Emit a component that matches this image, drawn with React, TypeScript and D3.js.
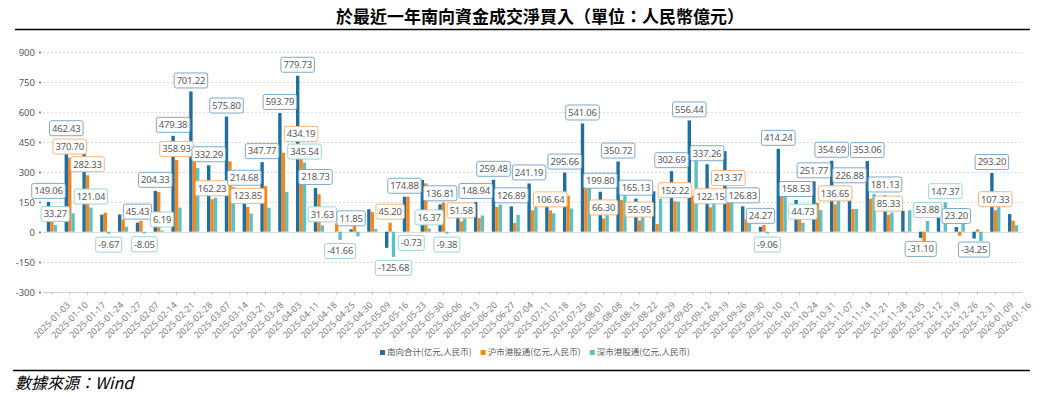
import { useEffect, useRef } from 'react';
import * as d3 from 'd3';

const dates = [
  '2025-01-03', '2025-01-10', '2025-01-17', '2025-01-24', '2025-01-27', '2025-02-07', '2025-02-14',
  '2025-02-21', '2025-02-28', '2025-03-07', '2025-03-14', '2025-03-21', '2025-03-28', '2025-04-03',
  '2025-04-11', '2025-04-18', '2025-04-25', '2025-04-30', '2025-05-09', '2025-05-16', '2025-05-23',
  '2025-05-30', '2025-06-06', '2025-06-13', '2025-06-20', '2025-06-27', '2025-07-04', '2025-07-11',
  '2025-07-18', '2025-07-25', '2025-08-01', '2025-08-08', '2025-08-15', '2025-08-22', '2025-08-29',
  '2025-09-05', '2025-09-12', '2025-09-19', '2025-09-26', '2025-09-30', '2025-10-10', '2025-10-17',
  '2025-10-24', '2025-10-31', '2025-11-07', '2025-11-14', '2025-11-21', '2025-11-28', '2025-12-05',
  '2025-12-12', '2025-12-19', '2025-12-26', '2025-12-31', '2026-01-09', '2026-01-16',
];

// 南向合计
const southTotal = [
  149.06, 462.43, 403.37, 85.33, 86.5, 45.43, 204.33, 479.38, 701.22, 332.29, 575.8, 214.68, 347.77, 593.79,
  779.73, 218.73, 0.34, 11.85, 112.0, -80.48, 174.88, 258.4, 136.81, 119.6, 148.94, 259.48, 126.89, 241.19,
  198.6, 295.66, 541.06, 199.8, 350.72, 165.13, 202.0, 302.69, 556.44, 337.26, 403.0, 126.83, 24.27, 414.24,
  158.53, 251.77, 354.69, 226.88, 353.06, 181.13, 104.0, -31.1, 70.0, 23.2, -34.25, 293.2, 88.0,
];

// 沪市港股通
const shConnect = [
  115.79, 370.7, 282.33, 95.0, 61.5, 53.48, 198.14, 358.93, 352.0, 162.23, 352.0, 123.85, 228.0, 395.0,
  434.19, 187.1, 42.0, 35.0, 98.0, 45.2, 175.61, 242.0, 146.19, 51.58, 68.0, 124.0, 43.0, 107.0,
  106.64, 180.0, 218.0, 66.3, 160.0, 55.95, 38.0, 152.22, 180.0, 122.15, 213.37, 62.0, 33.33, 178.0,
  113.8, 144.0, 136.65, 113.0, 165.0, 85.33, -3.0, -47.0, -2.0, -20.0, 12.0, 107.33, 55.0,
];

// 深市港股通
const szConnect = [
  33.27, 91.73, 121.04, -9.67, 25.0, -8.05, 6.19, 120.45, 318.0, 170.06, 223.8, 90.83, 119.77, 198.79,
  345.54, 31.63, -41.66, -23.15, 14.0, -125.68, -0.73, 16.37, -9.38, 68.0, 80.94, 135.48, 83.89, 134.19,
  92.0, 115.66, 222.0, 133.5, 190.72, 109.18, 164.0, 150.47, 376.44, 215.11, 190.0, 64.83, -9.06, 236.24,
  44.73, 107.77, 218.04, 113.88, 188.06, 95.8, 107.0, 53.88, 147.37, 43.2, -46.25, 185.87, 33.0,
];

const seriesNames = ['南向合计(亿元,人民币)', '沪市港股通(亿元,人民币)', '深市港股通(亿元,人民币)'];
const yTicks = [-300, -150, 0, 150, 300, 450, 600, 750, 900];

// bars that show a value label: [category index, series index]
const labelled: [number, number][] = [
  [0, 0], [0, 2], [1, 0], [1, 1], [2, 1], [2, 2], [3, 2], [5, 0], [5, 2], [6, 0], [6, 2], [7, 0], [7, 1],
  [8, 0], [9, 0], [9, 1], [10, 0], [11, 0], [11, 1], [12, 0], [13, 0], [14, 0], [14, 1], [14, 2], [15, 0],
  [15, 2], [16, 2], [17, 0], [19, 1], [19, 2], [20, 0], [20, 2], [21, 2], [22, 0], [22, 2], [23, 1], [24, 0],
  [25, 0], [26, 0], [27, 0], [28, 1], [29, 0], [30, 0], [31, 0], [31, 1], [32, 0], [33, 0], [33, 1], [35, 0],
  [35, 1], [36, 0], [37, 0], [37, 1], [38, 1], [39, 0], [40, 0], [40, 2], [41, 0], [42, 0], [42, 2], [43, 0],
  [44, 0], [44, 1], [45, 0], [46, 0], [47, 0], [47, 1], [49, 0], [49, 2], [50, 2], [51, 0], [52, 0], [53, 0],
  [53, 1],
];

const barColors = ['#1f6f9f', '#f5861c', '#5cc1c0'];
const boxColors = ['#7da9cb', '#f8b47a', '#98d6d5'];
const textGray = '#595959';
const labelFont = '"Noto Sans", sans-serif';

const W = 1044;
const H = 396;

export default function App() {
  const ref = useRef<SVGSVGElement>(null);

  useEffect(() => {
    if (!ref.current) return;
    const svg = d3.select(ref.current);
    svg.selectAll('*').remove();

    const series = [southTotal, shConnect, szConnect];
    const x = d3.scaleBand<string>().domain(dates).range([43, 1022]);
    const y = d3.scaleLinear().domain([-300, 900]).range([291.7, 51.7]);
    const bw = 3.4;
    const barX = (i: number, s: number) => (x(dates[i]) as number) + x.bandwidth() / 2 + (s - 1) * bw;

    svg.append('rect').attr('width', W).attr('height', H).attr('fill', '#fff');

    // title + rules
    svg
      .append('text')
      .attr('x', 540)
      .attr('y', 23)
      .attr('text-anchor', 'middle')
      .attr('font-family', '"Noto Sans CJK TC", serif')
      .attr('font-weight', 'bold')
      .attr('font-size', 17)
      .attr('fill', '#000')
      .text('於最近一年南向資金成交淨買入（單位：人民幣億元）');
    svg.append('line').attr('x1', 15).attr('x2', 1030).attr('y1', 29.5).attr('y2', 29.5).attr('stroke', '#000').attr('stroke-width', 1.5);
    svg.append('line').attr('x1', 13).attr('x2', 1030).attr('y1', 370.5).attr('y2', 370.5).attr('stroke', '#000').attr('stroke-width', 1.5);
    svg
      .append('text')
      .attr('x', 15)
      .attr('y', 389)
      .attr('font-family', '"Noto Sans CJK TC", sans-serif')
      .attr('font-style', 'italic')
      .attr('font-size', 16)
      .attr('fill', '#000')
      .text('數據來源：Wind');

    // grid + y axis
    const g = svg.append('g');
    yTicks.forEach((t) => {
      const yy = Math.round(y(t)) + 0.5;
      g.append('line')
        .attr('x1', 43)
        .attr('x2', 1022)
        .attr('y1', yy)
        .attr('y2', yy)
        .attr('stroke', t === -300 ? '#d0d0d0' : '#dcdcdc')
        .attr('stroke-dasharray', t === -300 || t === 0 ? null : '2,2');
      g.append('rect').attr('x', 39).attr('y', yy - 1).attr('width', 2).attr('height', 2).attr('fill', '#8a8a8a');
      g.append('text')
        .attr('x', 35)
        .attr('y', yy)
        .attr('dy', '0.35em')
        .attr('text-anchor', 'end')
        .attr('font-family', labelFont)
        .attr('font-size', 9.5)
        .attr('fill', textGray)
        .text(t);
    });

    // x ticks + labels
    dates.forEach((d) => {
      const cx = (x(d) as number) + x.bandwidth() / 2;
      g.append('line').attr('x1', cx).attr('x2', cx).attr('y1', y(-300)).attr('y2', y(-300) + 3).attr('stroke', '#bfbfbf');
      g.append('text')
        .attr('transform', `translate(${cx},320) rotate(-45)`)
        .attr('text-anchor', 'middle')
        .attr('dy', '0.35em')
        .attr('font-family', labelFont)
        .attr('font-size', 9)
        .attr('fill', '#7f7f7f')
        .text(d);
    });

    // bars
    series.forEach((vals, s) => {
      g.append('g')
        .selectAll('rect')
        .data(vals)
        .join('rect')
        .attr('x', (_, i) => barX(i, s) - bw / 2)
        .attr('width', bw)
        .attr('y', (v) => y(Math.max(0, v)))
        .attr('height', (v) => Math.abs(y(v) - y(0)))
        .attr('fill', barColors[s]);
    });

    // value labels
    const lg = svg.append('g');
    labelled.forEach(([i, s]) => {
      const v = series[s][i];
      const cx = barX(i, s);
      const h = 15;
      const top = v >= 0 ? y(v) - 3.5 - h : y(v) + 3.5;
      const box = lg.append('rect');
      const txt = lg
        .append('text')
        .attr('x', cx)
        .attr('y', top + h / 2)
        .attr('dy', '0.35em')
        .attr('text-anchor', 'middle')
        .attr('font-family', labelFont)
        .attr('font-size', 9.5)
        .attr('letter-spacing', -0.2)
        .attr('fill', textGray)
        .text(v.toFixed(2));
      const tw = (txt.node() as SVGTextElement).getComputedTextLength();
      box
        .attr('x', cx - tw / 2 - 2.5)
        .attr('y', top)
        .attr('width', tw + 5)
        .attr('height', h)
        .attr('rx', 2)
        .attr('fill', '#fff')
        .attr('stroke', boxColors[s])
        .attr('stroke-width', 1);
    });

    // legend
    let lx = 380;
    seriesNames.forEach((name, s) => {
      svg.append('rect').attr('x', lx).attr('y', 350).attr('width', 5).attr('height', 5).attr('fill', barColors[s]);
      const t = svg
        .append('text')
        .attr('x', lx + 7)
        .attr('y', 352.5)
        .attr('dy', '0.35em')
        .attr('font-family', '"Noto Sans CJK SC", sans-serif')
        .attr('font-size', 8.5)
        .attr('fill', textGray)
        .text(name);
      lx += 7 + (t.node() as SVGTextElement).getComputedTextLength() + 9;
    });
  }, []);

  return <svg ref={ref} width={W} height={H} style={{ position: 'absolute', left: 0, top: 0 }} />;
}
